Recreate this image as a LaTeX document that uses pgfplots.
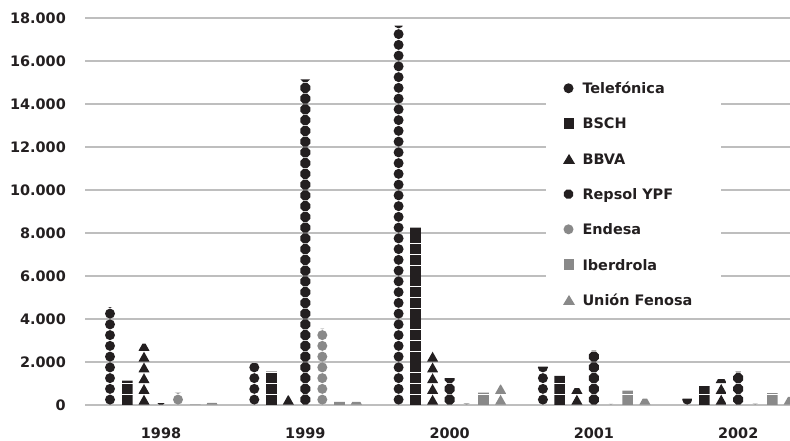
\documentclass[border=0pt]{standalone}
\usepackage{fontspec}
\setmainfont{DejaVu Sans}
\usepackage{pgfplots}
\usepackage{pgfplotstable}
\pgfplotsset{compat=1.18}
\definecolor{blk}{RGB}{35,31,32}
\definecolor{gry}{RGB}{137,137,137}
\definecolor{grd}{RGB}{190,190,190}

\pgfplotstableread{
x tel bsch bbva repsol endesa iber uf
0 4550 1130 2850 90 570 20 100
1 1950 1550 450 15150 3550 150 150
2 17650 8250 2500 1250 80 570 950
3 1780 1350 780 2530 50 670 300
4 300 880 1200 1550 60 550 380
}\data

% pictogram fill: each bar is filled with one marker per 500 units, clipped at the bar top
\tikzset{picto/.style 2 args={path picture={%
  \foreach \i in {0,...,4}{\foreach \k in {0,...,36}{%
    \fill[#1, path picture={}, shift={(path picture bounding box.south west)},
      xshift=\i*144.3bp+5.5bp, yshift=\k*10.75bp+5.375bp] #2;}}}}}

\begin{document}
\begin{tikzpicture}
\path[use as bounding box] (0bp,0bp) rectangle (790bp,441bp);
\begin{axis}[
  at={(85bp,36bp)}, anchor=south west,
  x=144.3bp, y=0.0215bp,
  xmin=-0.5267, xmax=4.359, ymin=0, ymax=18000,
  axis line style={draw=none}, tick style={draw=none}, major tick length=0pt,
  ytick={0,2000,...,18000}, ymajorgrids, grid style={line width=1.5bp, color=grd},
  xtick={0,1,2,3,4}, xticklabels={1998,1999,2000,2001,2002},
  scaled y ticks=false,
  /pgf/number format/assume math mode=true,
  /pgf/number format/1000 sep={.},
  yticklabel style={anchor=east, inner sep=0pt, xshift=-19bp},
  xticklabel style={anchor=north, inner sep=0pt, yshift=-23bp},
  ticklabel style={font=\fontsize{14.5}{15}\selectfont\bfseries, text=blk},
  legend cell align=left,
  legend style={at={(axis description cs:0.6539,0.8475)}, anchor=north west,
    draw=none, fill=white, outer sep=0pt, inner xsep=17bp, inner ysep=6bp,
    row sep=21.7bp, font=\fontsize{14.5}{15}\selectfont\bfseries, text=blk,
    nodes={inner sep=0pt, text height=10.5bp, text depth=3bp}},
]
\addplot[ybar, bar width=11bp, bar shift=-51bp, draw=none, fill=none,
  picto={blk}{(0bp,0bp) circle (5bp)},
  legend image code/.code={\path[path picture={}] (0bp,-5bp) rectangle (19bp,5bp);
    \fill[blk, path picture={}] (5bp,1.5bp) circle (5bp);}]
  table[x=x, y=tel] {\data};
\addlegendentry{Telefónica}
\addplot[ybar, bar width=11bp, bar shift=-34bp, draw=none, fill=none,
  picto={blk}{(-5.5bp,-4.9bp) rectangle (5.5bp,4.9bp)},
  legend image code/.code={\path[path picture={}] (0bp,-5bp) rectangle (19bp,5bp);
    \fill[blk, path picture={}] (0bp,-3.5bp) rectangle (10.5bp,7bp);}]
  table[x=x, y=bsch] {\data};
\addlegendentry{BSCH}
\addplot[ybar, bar width=11bp, bar shift=-17bp, draw=none, fill=none,
  picto={blk}{(-5.5bp,-4.9bp) -- (5.5bp,-4.9bp) -- (0bp,4.9bp) -- cycle},
  legend image code/.code={\path[path picture={}] (0bp,-5bp) rectangle (19bp,5bp);
    \fill[blk, path picture={}] (-0.5bp,-3.5bp) -- (11.5bp,-3.5bp) -- (5.5bp,6.5bp) -- cycle;}]
  table[x=x, y=bbva] {\data};
\addlegendentry{BBVA}
\addplot[ybar, bar width=11bp, bar shift=0bp, draw=none, fill=none,
  picto={blk}{(22.5:5.4bp) -- (67.5:5.4bp) -- (112.5:5.4bp) -- (157.5:5.4bp) -- (202.5:5.4bp) -- (247.5:5.4bp) -- (292.5:5.4bp) -- (337.5:5.4bp) -- cycle},
  legend image code/.code={\path[path picture={}] (0bp,-5bp) rectangle (19bp,5bp);
    \fill[blk, path picture={}, shift={(5bp,1.5bp)}] (22.5:5bp) -- (67.5:5bp) -- (112.5:5bp) -- (157.5:5bp) -- (202.5:5bp) -- (247.5:5bp) -- (292.5:5bp) -- (337.5:5bp) -- cycle;}]
  table[x=x, y=repsol] {\data};
\addlegendentry{Repsol YPF}
\addplot[ybar, bar width=11bp, bar shift=17bp, draw=none, fill=none,
  picto={gry}{(0bp,0bp) circle (5bp)},
  legend image code/.code={\path[path picture={}] (0bp,-5bp) rectangle (19bp,5bp);
    \fill[gry, path picture={}] (5bp,1.5bp) circle (5bp);}]
  table[x=x, y=endesa] {\data};
\addlegendentry{Endesa}
\addplot[ybar, bar width=11bp, bar shift=34bp, draw=none, fill=none,
  picto={gry}{(-5.5bp,-4.9bp) rectangle (5.5bp,4.9bp)},
  legend image code/.code={\path[path picture={}] (0bp,-5bp) rectangle (19bp,5bp);
    \fill[gry, path picture={}] (0bp,-3.5bp) rectangle (10.5bp,7bp);}]
  table[x=x, y=iber] {\data};
\addlegendentry{Iberdrola}
\addplot[ybar, bar width=11bp, bar shift=51bp, draw=none, fill=none,
  picto={gry}{(-5.5bp,-4.9bp) -- (5.5bp,-4.9bp) -- (0bp,4.9bp) -- cycle},
  legend image code/.code={\path[path picture={}] (0bp,-5bp) rectangle (19bp,5bp);
    \fill[gry, path picture={}] (-0.5bp,-3.5bp) -- (11.5bp,-3.5bp) -- (5.5bp,6.5bp) -- cycle;}]
  table[x=x, y=uf] {\data};
\addlegendentry{Unión Fenosa\hspace*{12bp}}
\end{axis}
\end{tikzpicture}
\end{document}
